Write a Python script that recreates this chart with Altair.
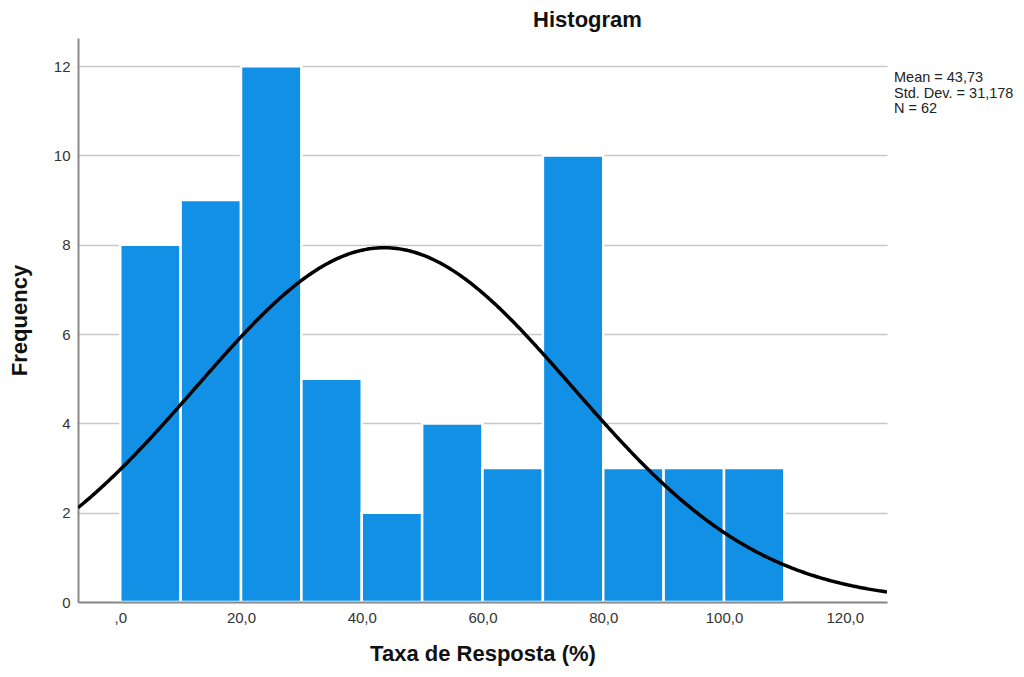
import altair as alt
import pandas as pd

# ---- data ----
bin_start = [0, 10, 20, 30, 40, 50, 60, 70, 80, 90, 100]
bin_end = [10, 20, 30, 40, 50, 60, 70, 80, 90, 100, 110]
freq = [8, 9, 12, 5, 2, 4, 3, 10, 3, 3, 3]
MEAN = 43.73
SD = 31.178
N = 62
BIN_W = 10
x_ticks = [0, 20, 40, 60, 80, 100, 120]
y_ticks = [0, 2, 4, 6, 8, 10, 12]
stats_lines = ["Mean = 43,73", "Std. Dev. = 31,178", "N = 62"]

df = pd.DataFrame({"start": bin_start, "end": bin_end, "freq": freq})

FONT = "Liberation Sans"
xscale = alt.Scale(domain=[-7, 127], nice=False, zero=False)
yscale = alt.Scale(domain=[0, 12.63], nice=False)

bars = alt.Chart(df).mark_rect(
    color="#1290E6", stroke="white", strokeWidth=2.5
).encode(
    x=alt.X("start:Q", scale=xscale,
            axis=alt.Axis(values=x_ticks, grid=False, ticks=False,
                          title="Taxa de Resposta (%)",
                          labelExpr="datum.value == 0 ? ',0' : replace(format(datum.value, '.1f'), '.', ',')",
                          labelPadding=8, titlePadding=18, zindex=1)),
    x2="end:Q",
    y=alt.Y("freq:Q", scale=yscale,
            axis=alt.Axis(values=y_ticks, grid=True, ticks=False,
                          title="Frequency", labelPadding=8, titlePadding=22,
                          zindex=0)),
    y2=alt.datum(0),
)

curve = alt.Chart(alt.sequence(-7, 127.01, 0.25, as_="x")).transform_calculate(
    y=f"{N} * {BIN_W} * densityNormal(datum.x, {MEAN}, {SD})"
).mark_line(color="black", strokeWidth=3.5, clip=True).encode(
    x=alt.X("x:Q", scale=xscale),
    y=alt.Y("y:Q", scale=yscale),
)

stats = alt.Chart(pd.DataFrame({"t": ["\n".join(stats_lines)]})).mark_text(
    align="left", baseline="top", lineBreak="\n", fontSize=14.5, lineHeight=15.5,
    font=FONT, color="#222222"
).encode(
    x=alt.value(816), y=alt.value(33), text="t:N"
)

chart = alt.layer(bars, curve, stats).properties(
    width=809, height=564, autosize="none",
    padding={"left": 70, "top": 30, "right": 129, "bottom": 67},
    title=alt.TitleParams("Histogram", fontSize=22, fontWeight="bold", font=FONT,
                          color="#111111", anchor="middle", dx=105, offset=6),
).configure_view(stroke=None).configure_axis(
    labelFont=FONT, labelFontSize=15, labelColor="#333333",
    titleFont=FONT, titleFontSize=22, titleFontWeight="bold", titleColor="#111111",
    domainColor="#8a8a8a", domainWidth=2,
    gridColor="#c8c8c8", gridWidth=1.5,
)

chart.save("out.html", embed_options={"renderer": "svg", "actions": False})
